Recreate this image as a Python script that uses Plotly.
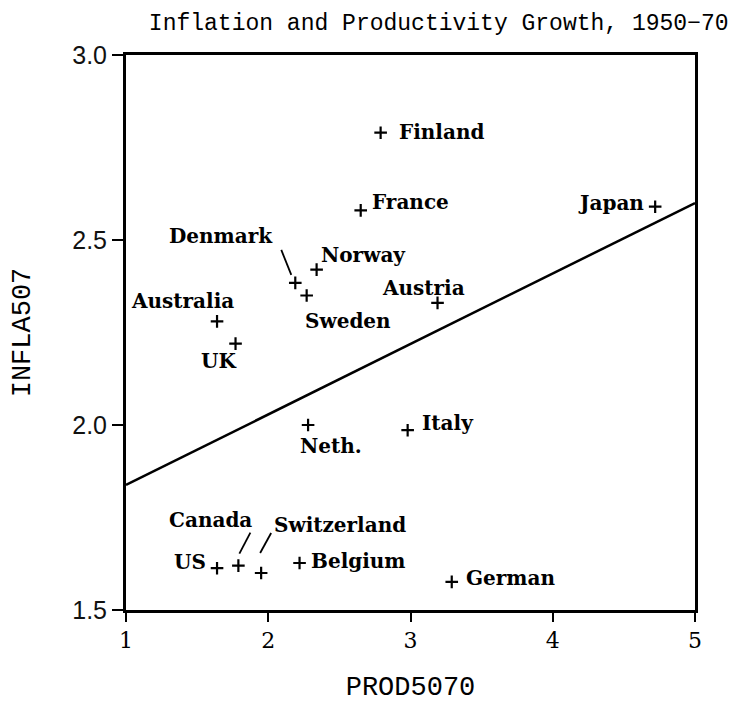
import plotly.graph_objects as go

countries = ["Finland", "France", "Japan", "Norway", "Denmark", "Austria", "Sweden",
             "Australia", "UK", "Neth.", "Italy", "Canada", "Switzerland", "US",
             "Belgium", "German"]
prod5070 = [2.79, 2.65, 4.72, 2.34, 2.19, 3.19, 2.27, 1.64, 1.77, 2.28, 2.98,
            1.79, 1.95, 1.64, 2.22, 3.29]
infla507 = [2.79, 2.58, 2.59, 2.42, 2.384, 2.33, 2.35, 2.28, 2.22, 2.0, 1.986,
            1.62, 1.60, 1.613, 1.627, 1.576]
fit_x = [1, 5]
fit_y = [1.838, 2.60]
x_ticks = [1, 2, 3, 4, 5]
y_ticks = [1.5, 2.0, 2.5, 3.0]

# label placement (pixels): xanchor, xshift, yshift
label_pos = {
    "Finland": ("left", 16, 1),
    "France": ("left", 9, 8),
    "Japan": ("right", -9, 4),
    "Norway": ("left", 2, 15),
    "Denmark": ("right", -20, 47),
    "Austria": ("center", -14, 15),
    "Sweden": ("left", -4, -25),
    "Australia": ("center", -35, 20),
    "UK": ("right", 2, -17),
    "Neth.": ("left", -10, -21),
    "Italy": ("left", 12, 7),
    "Canada": ("center", -28, 46),
    "Switzerland": ("left", 11, 48),
    "US": ("right", -9, 6),
    "Belgium": ("left", 9, 2),
    "German": ("left", 12, 4),
}
# leader lines (pixel offsets from point, y up)
leaders = {
    "Denmark": (-14, 33, -4, 8),
    "Canada": (12, 33, 1, 12),
    "Switzerland": (10, 40, -1, 20),
}

serif = "DejaVu Serif"
mono = "Liberation Mono"
fig = go.Figure()
fig.add_trace(go.Scatter(x=fit_x, y=fit_y, mode="lines",
                         line=dict(color="black", width=2.5), hoverinfo="skip"))
fig.add_trace(go.Scatter(x=prod5070, y=infla507, mode="markers",
                         marker=dict(symbol="cross-thin", size=9,
                                     line=dict(color="black", width=2.2))))

for c, px, py in zip(countries, prod5070, infla507):
    xa, xs, ys = label_pos[c]
    fig.add_annotation(x=px, y=py, text=c, showarrow=False, xanchor=xa,
                       yanchor="middle", xshift=xs, yshift=ys,
                       font=dict(family=serif, size=20, color="black", weight="bold"))
    if c in leaders:
        x0, y0, x1, y1 = leaders[c]
        fig.add_shape(type="line", xref="x", yref="y", xsizemode="pixel",
                      ysizemode="pixel", xanchor=px, yanchor=py,
                      x0=x0, y0=y0, x1=x1, y1=y1,
                      line=dict(color="black", width=1.8))

axis_common = dict(showgrid=False, zeroline=False, showline=True, linecolor="black",
                   linewidth=3, mirror=True, ticks="outside",
                   tickwidth=1.5, tickcolor="black", automargin=False)
fig.update_xaxes(range=[1, 5], tickvals=x_ticks, ticktext=[str(v) for v in x_ticks],
                 ticklen=9,
                 tickfont=dict(family=serif, size=22, color="black"),
                 title=dict(text="PROD5070", font=dict(family=mono, size=27, color="black"),
                            standoff=32),
                 **axis_common)
fig.update_yaxes(range=[1.5, 3.0], tickvals=y_ticks,
                 ticktext=[f"{v:.1f}" for v in y_ticks], ticklen=11,
                 tickfont=dict(family="Liberation Sans", size=25, color="#111"),
                 title=dict(text="INFLA507", font=dict(family=mono, size=27, color="black"),
                            standoff=40),
                 **axis_common)
fig.update_layout(
    width=730, height=695,
    margin=dict(l=118, r=43, t=47, b=93),
    plot_bgcolor="white", paper_bgcolor="white",
    showlegend=False,
    title=dict(text="Inflation and Productivity Growth, 1950\u221270",
               x=0.59, xanchor="center", y=0.98, yanchor="middle",
               automargin=False,
               font=dict(family=mono, size=23, color="black")),
)
fig.write_html("out.html")
